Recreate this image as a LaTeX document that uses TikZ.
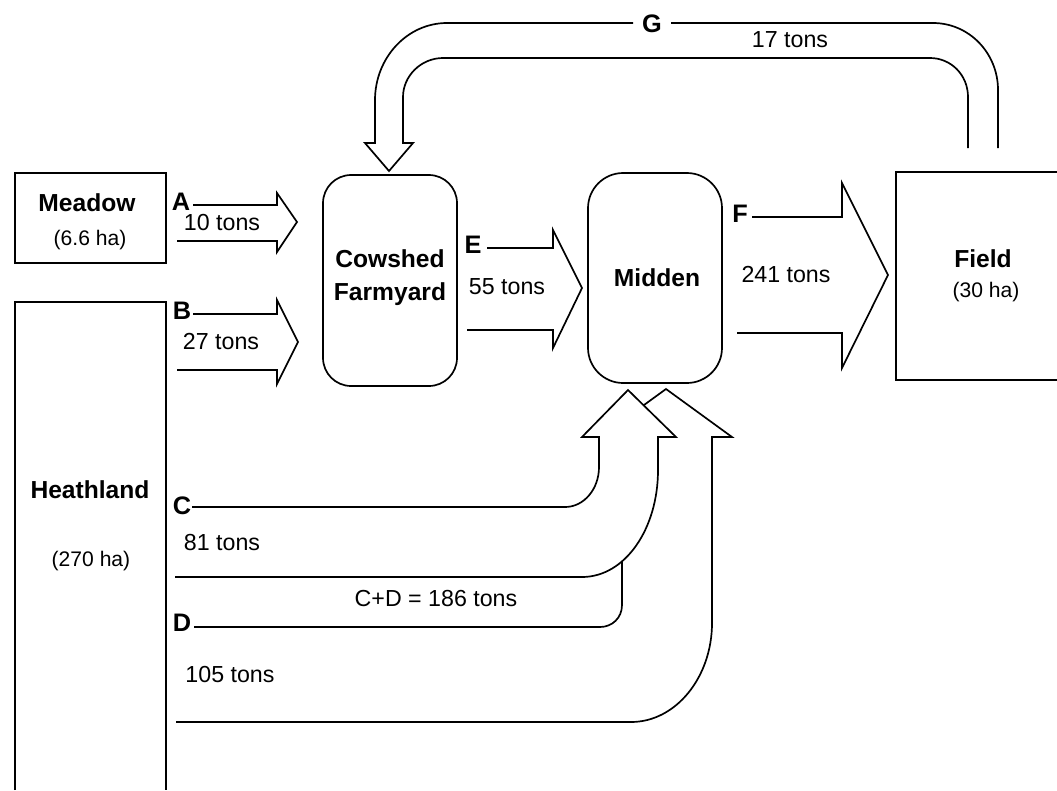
\documentclass[tikz,border=0pt]{standalone}
\usepackage{fontspec}
\setmainfont{Liberation Sans}
\tikzset{place/.style = {font=\bfseries\fontsize{17.5}{23.5}\selectfont, align=center, inner sep=0pt},
         area/.style = {font=\fontsize{15}{18}\selectfont, inner sep=0pt},
         amount/.style = {font=\fontsize{16.5}{19}\selectfont, inner sep=0pt},
         flowletter/.style = {font=\bfseries\fontsize{18}{20}\selectfont, inner sep=0pt}}
\newcommand{\arrowC}{(192,507) -- (565,507) .. controls (584,507) and (599,489) .. (599,467) -- (599,437) -- (582,437) -- (628,390) -- (676,437) -- (658,437) -- (658,470) .. controls (658,529) and (625,577) .. (582,577) -- (175,577)}
\newcommand{\arrowD}{(194,627) -- (600,627) .. controls (612,627) and (622,618) .. (622,605) -- (622,437) -- (600,437) -- (666,389) -- (732,437) -- (712,437) -- (712,623) .. controls (712,677) and (676,722) .. (631,722) -- (176,722)}

\begin{document}
\begin{tikzpicture}[x=0.025cm, y=-0.025cm, line width=1.2pt, line join=miter]
\useasboundingbox (0,0) rectangle (1057,790);
\draw (15,173) rectangle (166,263);
\draw (15,790) -- (15,302) -- (166,302) -- (166,790);
\draw[rounded corners=20] (323,175) rectangle (457,386);
\draw[rounded corners=25] (588,173) rectangle (722,383);
\draw (1057,172) -- (896,172) -- (896,380) -- (1057,380);
\node[place] (meadow) at (87,203) {Meadow};
\node[area] (meadowha) at (90,240) {(6.6 ha)};
\node[place] (heath) at (90,490) {Heathland};
\node[area] (heathha) at (91,561) {(270 ha)};
\node[place] (cowshed) at (390,278) {Cowshed\\Farmyard};
\node[place] (midden) at (657,278) {Midden};
\node[place] (field) at (983,259) {Field};
\node[area] (fieldha) at (986,292) {(30 ha)};

\draw (193,205) -- (277,205) -- (277,193) -- (297,222) -- (277,252) -- (277,241) -- (177,241);
\draw (193,314) -- (277,314) -- (277,300) -- (298,342) -- (277,384) -- (277,370) -- (177,370);
\draw (487,248) -- (553,248) -- (553,230) -- (582,288) -- (553,348) -- (553,330) -- (467,330);
\draw (752,217) -- (842,217) -- (842,183) -- (888,275) -- (842,368) -- (842,333) -- (737,333);
\draw (998,148) -- (998,90) .. controls (998,53) and (969,23) .. (933,23) -- (671,23);
\draw (633,23) -- (447,23) .. controls (407,23) and (375,58) .. (375,100) -- (375,143) -- (365,143) -- (389,171) -- (413,143) -- (403,143) -- (403,97) .. controls (403,76) and (421,58) .. (443,58) -- (930,58) .. controls (951,58) and (968,75) .. (968,97) -- (968,148);
\fill[white] \arrowD -- cycle;
\draw \arrowD;
\fill[white] \arrowC -- cycle;
\draw \arrowC;

\node[flowletter] (A) at (181,202) {A};
\node[flowletter] (B) at (182,311) {B};
\node[flowletter] (C) at (182,506) {C};
\node[flowletter] (D) at (182,623) {D};
\node[flowletter] (E) at (473,245) {E};
\node[flowletter] (F) at (740,214) {F};
\node[flowletter] (G) at (652,24) {G};
\node[amount] (tonsA) at (222,223) {10 tons};
\node[amount] (tonsB) at (221,342) {27 tons};
\node[amount] (tonsE) at (507,287) {55 tons};
\node[amount] (tonsF) at (786,275) {241 tons};
\node[amount] (tonsG) at (790,40) {17 tons};
\node[amount] (tonsC) at (222,543) {81 tons};
\node[amount] (tonsD) at (230,674) {105 tons};
\node[amount] (tonsCD) at (436,599) {C+D = 186 tons};
\end{tikzpicture}
\end{document}
